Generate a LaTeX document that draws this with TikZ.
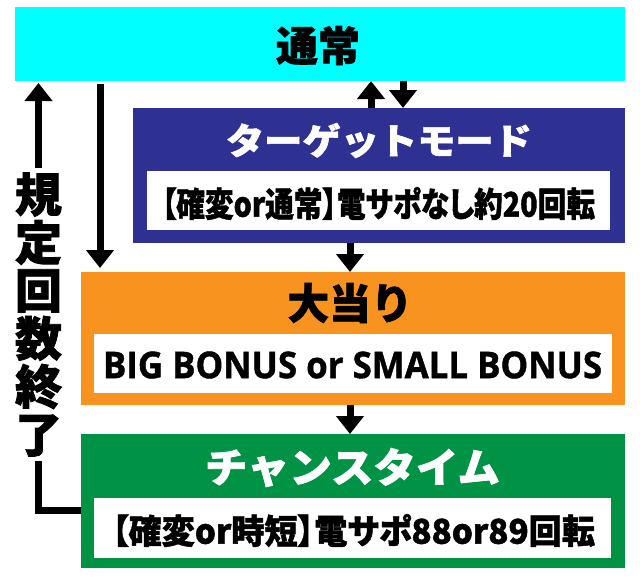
\documentclass[tikz,border=0pt]{standalone}
\usepackage{fontspec}
\usepackage{graphicx}
\newfontfamily\jp{Noto Sans CJK JP}[BoldFeatures={FakeBold=1.6}]
\newfontfamily\jpp{Noto Sans CJK JP}[RawFeature=+palt,BoldFeatures={FakeBold=1.4}]
\newfontfamily\lat{Open Sans}[BoldFeatures={FakeBold=1.2}]
\usetikzlibrary{arrows.meta}
\definecolor{cyanbox}{HTML}{00FFFF}
\definecolor{navybox}{HTML}{2E3192}
\definecolor{orangebox}{HTML}{F7931E}
\definecolor{greenbox}{HTML}{009245}
\begin{document}
\begin{tikzpicture}[x=1pt,y=-1pt,
  panel/.style={draw=none,inner sep=0pt,outer sep=0pt},
  whitebox/.style={panel,fill=white},
  txt/.style={inner sep=0pt,outer sep=0pt},
  arr/.style={draw=black,line width=7pt,line join=miter,
    -{Triangle[width=27pt,length=18pt]}}]
\useasboundingbox (0,0) rectangle (640,579);
\fill[white] (0,0) rectangle (640,579);
% panels
\node[panel,fill=cyanbox,minimum width=610pt,minimum height=74pt] (cyan) at (320,44) {};
\node[panel,fill=navybox,minimum width=492pt,minimum height=135pt] (blue) at (379,175.5) {};
\node[whitebox,minimum width=463pt,minimum height=59pt] (bluein) at (378.5,200.5) {};
\node[panel,fill=orangebox,minimum width=544pt,minimum height=133pt] (orange) at (353,338.5) {};
\node[whitebox,minimum width=518pt,minimum height=59pt] (orangein) at (353,363.5) {};
\node[panel,fill=greenbox,minimum width=544pt,minimum height=134pt] (green) at (353,501) {};
\node[whitebox,minimum width=517pt,minimum height=60pt] (greenin) at (352.5,528) {};
% texts
\node[txt] (t1) at (318,45.5) {\resizebox*{84pt}{39pt}{\jp\bfseries 通常}};
\node[txt,text=white] (t2) at (379,140.5) {\resizebox*{306pt}{35pt}{\jp\bfseries ターゲットモード}};
\node[txt] (t3) at (378.5,203.5) {\resizebox*{433pt}{33pt}{\jpp\bfseries 【確変or通常】電サポなし約20回転}};
\node[txt] (t4) at (350,303) {\resizebox*{125pt}{40pt}{\jp\bfseries 大当り}};
\node[txt] (t5) at (352.5,365) {\resizebox*{499pt}{27pt}{\lat\bfseries BIG BONUS or SMALL BONUS}};
\node[txt,text=white] (t6) at (352.5,467.5) {\resizebox*{295pt}{39pt}{\jp\bfseries チャンスタイム}};
\node[txt] (t7) at (353.5,530.5) {\resizebox*{483pt}{33pt}{\jpp\bfseries 【確変or時短】電サポ88or89回転}};
% arrow columns
\coordinate (cu) at (371,0);
\coordinate (cd) at (403,0);
\coordinate (cl) at (100,0);
\coordinate (cm) at (350,0);
\coordinate (cr) at (38.5,0);
\draw[arr] (cu |- blue.north) -- (cu |- cyan.south);
\draw[arr] (cd |- cyan.south) -- (cd |- blue.north);
\draw[arr,shorten <=3pt,shorten >=4pt] (cl |- cyan.south) -- (cl |- orange.north);
\draw[arr] (cm |- blue.south) -- (cm |- orange.north);
\draw[arr] (cm |- orange.south) -- (cm |- green.north);
\draw[arr,shorten >=2pt] ([yshift=-9pt]green.west) -| (cr |- cyan.south);
% label
\node[txt,fill=white,inner xsep=3pt,inner ysep=4pt,align=center,
  font=\jp\bfseries\fontsize{47}{48}\selectfont] (lab) at (38.5,314.5)
  {規\\定\\回\\数\\終\\了};
\end{tikzpicture}
\end{document}
